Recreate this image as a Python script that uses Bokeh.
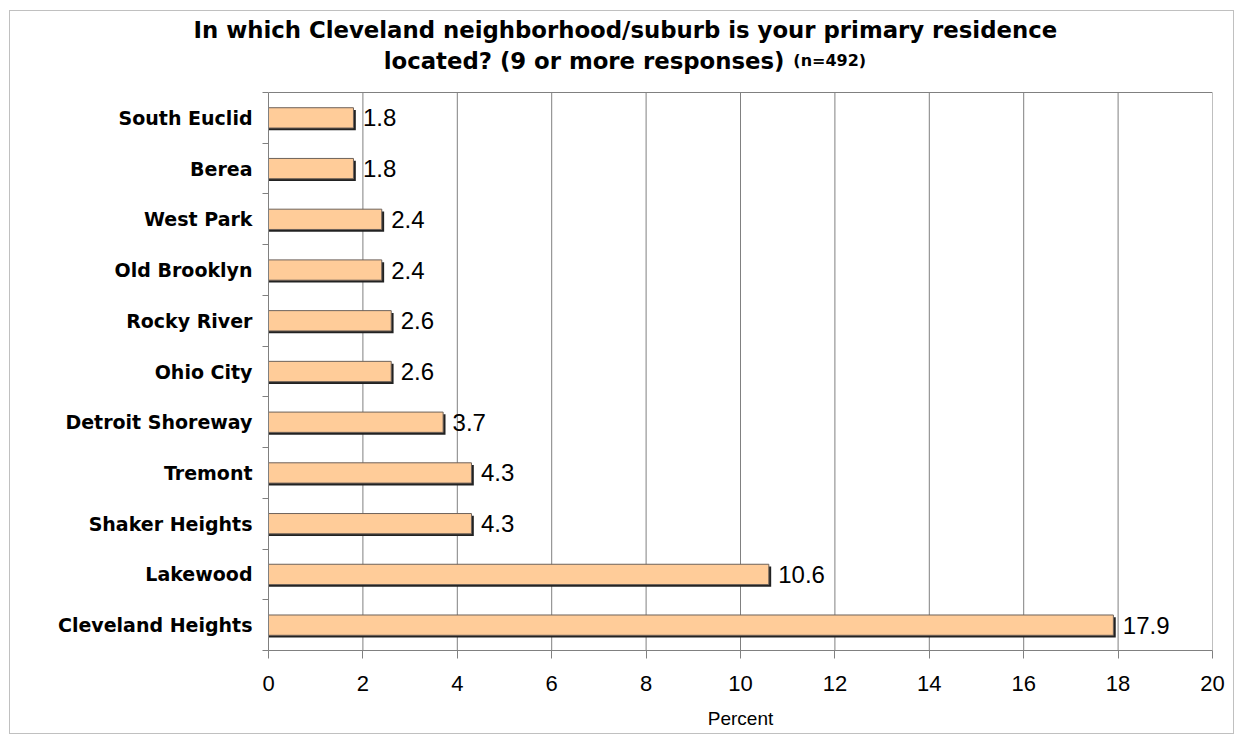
from bokeh.plotting import figure
from bokeh.models import Range1d, FixedTicker, Label, ColumnDataSource, Title
from bokeh.core.properties import value
from bokeh.embed import file_html
from bokeh.resources import INLINE

# data (top to bottom as in the chart)
categories = ["South Euclid", "Berea", "West Park", "Old Brooklyn", "Rocky River",
              "Ohio City", "Detroit Shoreway", "Tremont", "Shaker Heights",
              "Lakewood", "Cleveland Heights"]
percents = [1.8, 1.8, 2.4, 2.4, 2.6, 2.6, 3.7, 4.3, 4.3, 10.6, 17.9]
x_ticks = [0, 2, 4, 6, 8, 10, 12, 14, 16, 18, 20]

n = len(categories)
pos = [n - 0.5 - i for i in range(n)]
labels = [f"{v:.1f}" for v in percents]
XMAX = x_ticks[-1]

src = ColumnDataSource(dict(cat=categories, val=percents, y=pos, lab=labels,
                            ys=[y - 0.045 for y in pos],
                            xs=[v + 0.05 for v in percents],
                            xl=[v + 0.2 for v in percents]))

# y range extends above the category area to host the second title line
p = figure(width=1225, height=724, output_backend="svg", toolbar_location=None,
           x_range=Range1d(0, XMAX), y_range=Range1d(0, n + 0.9857),
           min_border_left=258, min_border_right=23, min_border_top=31, min_border_bottom=85)
p.styles = {"border": "1px solid #c0c0c0", "margin-left": "9px", "margin-top": "10px"}

p.background_fill_color = "white"
p.border_fill_color = "white"
p.outline_line_color = None

# vertical grid lines and plot-area border (only over the category area)
p.segment(x0=x_ticks[1:-1], y0=[0] * (len(x_ticks) - 2), x1=x_ticks[1:-1], y1=[n] * (len(x_ticks) - 2),
          line_color="#808080", line_width=1)
p.segment(x0=[0, XMAX], y0=[n, 0], x1=[XMAX, XMAX], y1=[n, n], line_color="#808080", line_width=1)

# shadow + bars
p.hbar(y="ys", left=0, right="xs", height=0.4, source=src,
       fill_color="#222222", line_color=None)
p.hbar(y="y", left=0, right="val", height=0.4, source=src,
       fill_color="#FFCC99", line_color="#6e625a", line_width=1)

p.text(x="xl", y="y", text="lab", source=src, text_baseline="middle",
       text_align="left", text_font=value("Liberation Sans"),
       text_font_size="24px", text_color="black")

p.xgrid.visible = False
p.ygrid.visible = False

# x axis
p.xaxis.ticker = FixedTicker(ticks=x_ticks)
p.xaxis.axis_line_color = "#808080"
p.xaxis.major_tick_line_color = "#808080"
p.xaxis.major_tick_out = 8
p.xaxis.major_tick_in = 0
p.xaxis.minor_tick_line_color = None
p.xaxis.major_label_text_font = "Liberation Sans"
p.xaxis.major_label_text_font_size = "22px"
p.xaxis.major_label_text_color = "black"
p.xaxis.major_label_standoff = 17
p.xaxis.axis_label = "Percent"
p.xaxis.axis_label_text_font = "Liberation Sans"
p.xaxis.axis_label_text_font_size = "19px"
p.xaxis.axis_label_text_font_style = "normal"
p.xaxis.axis_label_text_color = "black"
p.xaxis.axis_label_standoff = 14

# y axis: labels at centres, ticks at category boundaries
p.yaxis.bounds = (0, n)
p.yaxis.ticker = FixedTicker(ticks=pos, minor_ticks=list(range(n + 1)))
p.yaxis.major_label_overrides = {y: c for y, c in zip(pos, categories)}
p.yaxis.axis_line_color = "#808080"
p.yaxis.major_tick_line_color = None
p.yaxis.minor_tick_line_color = "#808080"
p.yaxis.minor_tick_out = 6
p.yaxis.minor_tick_in = 0
p.yaxis.major_label_text_font = "DejaVu Sans"
p.yaxis.major_label_text_font_style = "bold"
p.yaxis.major_label_text_font_size = "19px"
p.yaxis.major_label_text_color = "black"
p.yaxis.major_label_standoff = 10

# title line 1 (above the plot)
title1 = Title(text="In which Cleveland neighborhood/suburb is your primary residence",
               align="left", offset=-75, text_font="DejaVu Sans",
               text_font_style="bold", text_font_size="22.8px", text_color="black", standoff=0)
p.add_layout(title1, "above")

# title line 2 and sample size (inside the extended plot range)
t2 = Label(x=2.44, y=n + 0.63, text="located? (9 or more responses)",
           text_align="left", text_baseline="alphabetic", text_font="DejaVu Sans",
           text_font_style="bold", text_font_size="22.8px", text_color="black")
t3 = Label(x=11.12, y=n + 0.63, text="(n=492)",
           text_align="left", text_baseline="alphabetic", text_font="DejaVu Sans",
           text_font_style="bold", text_font_size="16px", text_color="black")
p.add_layout(t2)
p.add_layout(t3)

open("out.html", "w").write(file_html(p, INLINE))
